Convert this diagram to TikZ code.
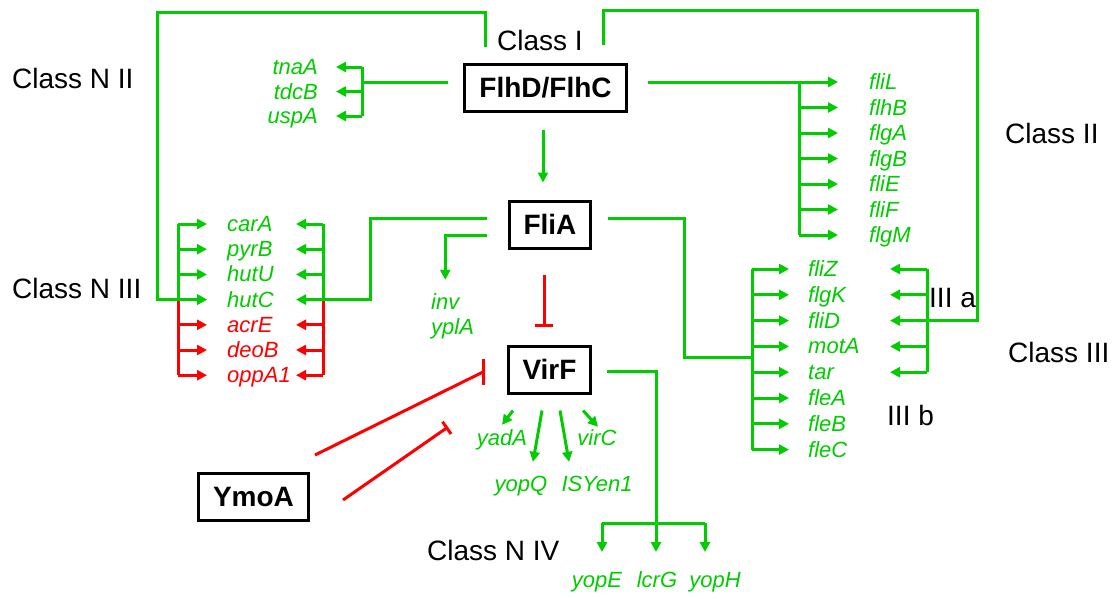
\documentclass[tikz,border=0pt]{standalone}
\usepackage{fontspec}
\setmainfont{Liberation Sans}
\usetikzlibrary{arrows.meta,positioning}
\definecolor{regGreen}{RGB}{0,204,0}
\definecolor{regRed}{RGB}{255,0,0}
\tikzset{
  gene/.style={font=\fontsize{22}{22}\selectfont\itshape, text=regGreen, inner sep=0pt, text height=15pt, text depth=0pt},
  redgene/.style={gene, text=regRed},
  regbox/.style={draw, line width=3pt, font=\fontsize{28}{28}\selectfont\bfseries, minimum height=47pt, inner sep=2pt},
  classlbl/.style={font=\fontsize{28}{28}\selectfont, inner sep=0pt, anchor=west},
  gline/.style={regGreen, line width=3pt},
  rline/.style={regRed, line width=3pt},
  garrow/.style={gline, -{Triangle[length=10pt,width=10pt]}},
  rarrow/.style={rline, -{Triangle[length=10pt,width=10pt]}},
  rbar/.style={rline, -{Bar[width=18pt,line width=3pt]}},
}
\begin{document}
\begin{tikzpicture}[x=1pt,y=-1pt]
\useasboundingbox (0,0) rectangle (1115,598);

% regulators
\node[regbox, minimum width=162pt] (flhd) at (545.5,88) {FlhD/FlhC};
\node[regbox, minimum width=81pt] (flia) at (550,224.5) {FliA};
\node[regbox, minimum width=82pt] (virf) at (549.5,369.5) {VirF};
\node[regbox, minimum width=110pt] (ymoa) at (253.5,497) {YmoA};

% class labels
\node[classlbl] (clsI) at (497,40) {Class I};
\node[classlbl] (clsNII) at (12,78) {Class N II};
\node[classlbl] (clsII) at (1005,133) {Class II};
\node[classlbl] (clsNIII) at (12,288) {Class N III};
\node[classlbl] (clsIIIa) at (929,298) {III a};
\node[classlbl] (clsIII) at (1008,352) {Class III};
\node[classlbl] (clsIIIb) at (887,415) {III b};
\node[classlbl] (clsNIV) at (427,550) {Class N IV};

% genes
\foreach \g [count=\i from 0] in {tnaA,tdcB,uspA}
  \node[gene, anchor=east] (\g) at (318,{67+24.5*\i}) {\g};
\foreach \g [count=\i from 0] in {fliL,flhB,flgA,flgB,fliE,fliF,flgM}
  \node[gene, anchor=west] (\g) at (869,{82+25.5*\i}) {\g};
\foreach \g [count=\i from 0] in {carA,pyrB,hutU,hutC}
  \node[gene, anchor=west] (\g) at (227,{224+25.2*\i}) {\g};
\foreach \g [count=\i from 4] in {acrE,deoB,oppA1}
  \node[redgene, anchor=west] (\g) at (227,{224+25.2*\i}) {\g};
\foreach \g [count=\i from 0] in {fliZ,flgK,fliD,motA,tar,fleA,fleB,fleC}
  \node[gene, anchor=west] (\g) at (808,{269+25.8*\i}) {\g};
\node[gene, anchor=west] (inv) at (431,302) {inv};
\node[gene, anchor=west] (yplA) at (431,327) {yplA};
\node[gene] (yadA) at (502,438) {yadA};
\node[gene] (virC) at (597,438) {virC};
\node[gene] (yopQ) at (521,484) {yopQ};
\node[gene] (ISYen1) at (597,484) {ISYen1};
\node[gene] (yopE) at (597,580) {yopE};
\node[gene] (lcrG) at (657,580) {lcrG};
\node[gene] (yopH) at (715,580) {yopH};

% bracket heads
\coordinate (nIIbr) at (362,82);
\coordinate (IIbr) at (799,82);
\coordinate (nIIIl) at (178,224);
\coordinate (nIIIr) at (323,224);
\coordinate (IIIabr) at (927,269);
\coordinate (IIIbbr) at (752,269);
\coordinate (IIIjoin) at (752,357);
\coordinate (nIVbr) at (656,523);
\coordinate (nIVa) at (602,523);
\coordinate (nIVc) at (705,523);
\coordinate (loopA) at (485,47);
\coordinate (loopB) at (603,45);
\coordinate (ymoaHit) at (448,427);
\coordinate (virfHit) at ([shift={(-24pt,-2.5pt)}]virf.west);

% FlhD/FlhC -> class N II
\draw[gline] ([shift={(-15pt,6pt)}]flhd.west) -- (nIIbr);
\draw[gline] (nIIbr |- tnaA.east) -- (nIIbr |- uspA.east);
\foreach \g in {tnaA,tdcB,uspA}
  \draw[garrow] (nIIbr |- \g.east) -- ([xshift=18pt]\g.east);

% FlhD/FlhC -> class II
\draw[gline] ([shift={(20pt,6pt)}]flhd.east) -- (IIbr);
\draw[gline] (IIbr) -- (IIbr |- flgM.west);
\foreach \g in {fliL,flhB,flgA,flgB,fliE,fliF,flgM}
  \draw[garrow] (IIbr |- \g.west) -- ([xshift=-31pt]\g.west);

% FlhD/FlhC -> FliA
\draw[garrow] ([shift={(-2.5pt,-17pt)}]flhd.south) -- ([shift={(-7pt,17pt)}]flia.north);

% class N III
\draw[gline] (nIIIl) -- (nIIIl |- hutC.west);
\draw[rline] (nIIIl |- hutC.west) -- (nIIIl |- oppA1.west);
\draw[gline] (nIIIr) -- (nIIIr |- hutC.west);
\draw[rline] (nIIIr |- hutC.west) -- (nIIIr |- oppA1.west);
\foreach \g in {carA,pyrB,hutU,hutC}
  \draw[garrow] (nIIIl |- \g.west) -- ([xshift=-20pt]\g.west);
\foreach \g in {acrE,deoB,oppA1}
  \draw[rarrow] (nIIIl |- \g.west) -- ([xshift=-20pt]\g.west);
\foreach \g in {carA,pyrB,hutU,hutC}
  \draw[garrow] (nIIIr |- \g.west) -- ++(-27,0);
\foreach \g in {acrE,deoB,oppA1}
  \draw[rarrow] (nIIIr |- \g.west) -- ++(-27,0);
\draw[garrow] (loopA) |- (157,12) |- ([xshift=-20pt]hutC.west); % from class I
\coordinate (nIIIjoin) at (nIIIr |- hutC.west);
\draw[gline] ([shift={(-21pt,6.5pt)}]flia.west) -| ([xshift=47pt]nIIIjoin) -- (nIIIjoin);

% FliA -> inv, yplA
\draw[garrow] ([shift={(-21pt,-10.5pt)}]flia.west) -| ([yshift=14.5pt]inv.north);

% class III
\draw[gline] (IIIbbr) -- (IIIbbr |- fleC.west);
\foreach \g in {fliZ,flgK,fliD,motA,tar,fleA,fleB,fleC}
  \draw[garrow] (IIIbbr |- \g.west) -- ([xshift=-19pt]\g.west);
\draw[gline] ([shift={(16pt,6.5pt)}]flia.east) -| ([xshift=-68pt]IIIjoin) -- (IIIjoin);
\draw[gline] (IIIabr) -- (IIIabr |- tar.west);
\foreach \g in {fliZ,flgK,fliD,motA,tar}
  \draw[garrow] (IIIabr |- \g.west) -- ++(-37,0);
\draw[gline] (loopB) |- (977,10) |- (IIIabr |- fliD.west); % from class I

% repression of VirF
\draw[rbar] ([shift={(-6pt,-25pt)}]flia.south) -- ([shift={(-5.5pt,18pt)}]virf.north);
\draw[rline] ([shift={(5pt,17pt)}]ymoa.north east) -- (virfHit);
\draw[rline] ([yshift=13pt]virfHit) -- ([yshift=-13pt]virfHit); % vertical bar
\draw[rline, -{Bar[width=15pt,line width=3pt]}] ([shift={(33pt,-3pt)}]ymoa.east) -- (ymoaHit);

% VirF targets
\draw[garrow] ([shift={(-36.5pt,-16pt)}]virf.south) -- ([yshift=5.5pt]yadA.north);
\draw[garrow] ([shift={(-7.5pt,-16pt)}]virf.south) -- ([shift={(12pt,14.5pt)}]yopQ.north);
\draw[garrow] ([shift={(10.5pt,-16pt)}]virf.south) -- ([shift={(-28pt,14.5pt)}]ISYen1.north);
\draw[garrow] ([shift={(33.5pt,-16pt)}]virf.south) -- ([shift={(1pt,3.5pt)}]virC.north);

% class N IV
\draw[gline] ([shift={(15pt,-1.5pt)}]virf.east) -| (nIVbr);
\draw[gline] (nIVa) -- (nIVc);
\draw[garrow] (nIVa) -- ++(0,29);
\draw[garrow] (nIVbr) -- ++(0,29);
\draw[garrow] (nIVc) -- ++(0,29);
\end{tikzpicture}
\end{document}
